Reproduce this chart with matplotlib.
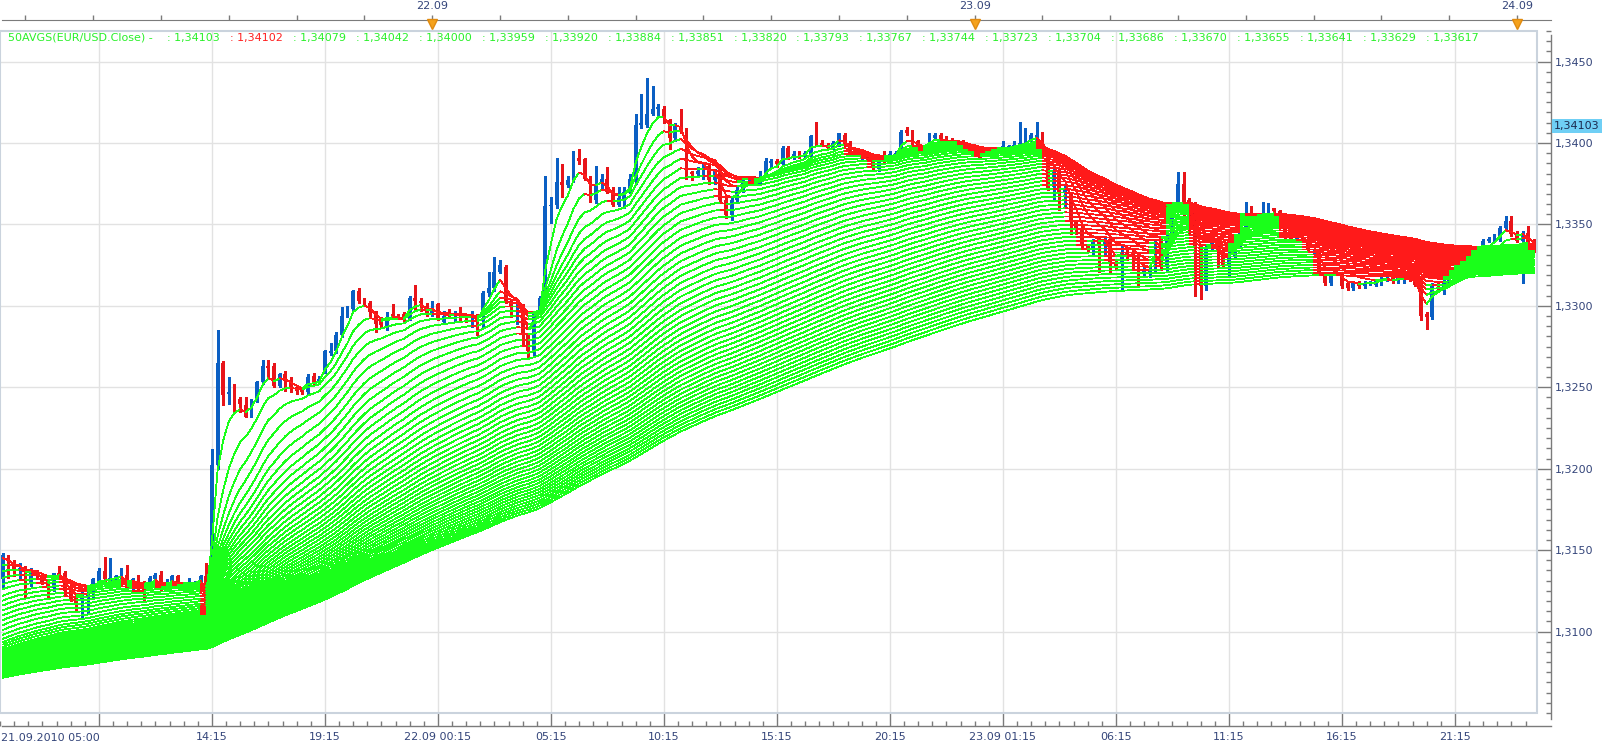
import numpy as np
import matplotlib
matplotlib.use("Agg")
import matplotlib.pyplot as plt
import matplotlib.transforms as mtransforms
from matplotlib.collections import LineCollection
from matplotlib.patches import Rectangle

# EUR/USD, 15-minute bars from 21.09.2010 05:00, values in pips above 1.3000
opens = [132, 147, 142, 137, 139, 129, 137, 134, 131, 127, 136, 136, 128, 121, 120, 121, 127, 131, 137, 132,
         133, 133, 135, 127, 132, 130, 130, 132, 135, 127, 130, 134, 128, 129, 128, 130, 134, 110, 202, 265,
         246, 247, 243, 239, 233, 242, 253, 263, 263, 251, 258, 254, 250, 249, 247, 257, 253, 260, 271, 272,
         282, 294, 298, 309, 304, 302, 296, 291, 287, 295, 294, 295, 292, 305, 303, 300, 295, 301, 290, 296,
         294, 295, 295, 293, 294, 296, 308, 311, 321, 324, 303, 299, 300, 282, 272, 297, 304, 361, 362, 376,
         374, 377, 391, 390, 379, 365, 375, 378, 371, 362, 365, 370, 377, 411, 411, 418, 421, 421, 414, 403,
         410, 407, 382, 381, 383, 386, 377, 383, 365, 356, 365, 371, 378, 379, 375, 381, 388, 389, 387, 397,
         391, 393, 392, 393, 404, 400, 399, 397, 399, 405, 400, 396, 392, 392, 390, 384, 392, 392, 393, 393,
         408, 407, 401, 398, 399, 403, 405, 402, 402, 400, 401, 398, 396, 395, 393, 394, 395, 395, 396, 398,
         398, 399, 401, 403, 405, 395, 373, 383, 370, 368, 352, 348, 337, 335, 340, 338, 341, 327, 326, 333,
         331, 328, 321, 321, 322, 340, 324, 343, 363, 375, 365, 362, 337, 312, 336, 339, 334, 325, 330, 338,
         345, 357, 355, 355, 356, 360, 358, 355, 342, 341, 341, 340, 333, 333, 320, 314, 320, 320, 314, 311,
         314, 312, 314, 313, 314, 316, 318, 315, 317, 317, 317, 316, 295, 293, 313, 310, 314, 318, 322, 325,
         327, 330, 337, 340, 341, 341, 348, 352, 344, 340, 345, 340]
highs = [148, 147, 144, 142, 140, 139, 138, 136, 132, 136, 140, 137, 131, 122, 126, 126, 133, 139, 146, 145,
         135, 139, 141, 133, 135, 131, 134, 136, 137, 132, 135, 135, 130, 133, 131, 135, 142, 212, 285, 266,
         256, 252, 244, 244, 243, 254, 267, 267, 265, 259, 260, 256, 251, 250, 258, 259, 257, 273, 277, 284,
         299, 300, 310, 311, 305, 303, 297, 293, 296, 301, 295, 296, 306, 313, 305, 302, 303, 302, 297, 298,
         297, 299, 295, 297, 295, 309, 321, 330, 328, 325, 304, 301, 301, 283, 297, 306, 380, 367, 391, 387,
         380, 395, 396, 391, 380, 386, 381, 385, 373, 373, 373, 381, 418, 430, 440, 435, 424, 423, 415, 412,
         421, 409, 383, 385, 388, 388, 384, 384, 366, 366, 373, 379, 380, 380, 383, 391, 390, 390, 398, 398,
         395, 395, 395, 405, 413, 402, 400, 401, 406, 406, 401, 397, 394, 393, 391, 390, 395, 395, 395, 408,
         410, 408, 402, 399, 406, 406, 406, 404, 403, 402, 402, 399, 397, 396, 395, 396, 397, 401, 399, 401,
         413, 409, 406, 413, 407, 396, 386, 384, 375, 370, 353, 349, 338, 341, 342, 342, 342, 328, 337, 335,
         335, 330, 325, 325, 341, 342, 345, 363, 382, 382, 366, 364, 338, 338, 341, 340, 335, 333, 339, 346,
         364, 361, 357, 364, 363, 360, 359, 356, 343, 342, 342, 341, 334, 334, 321, 321, 320, 321, 315, 315,
         315, 315, 315, 316, 319, 318, 320, 318, 318, 317, 320, 317, 296, 314, 314, 317, 320, 323, 326, 328,
         331, 335, 341, 342, 344, 349, 355, 355, 346, 346, 349, 341]
lows = [127, 133, 134, 133, 121, 128, 133, 129, 120, 125, 132, 122, 119, 113, 108, 111, 121, 130, 131, 126,
        131, 130, 126, 125, 124, 119, 128, 131, 125, 126, 129, 127, 127, 124, 127, 129, 110, 108, 200, 239,
        240, 235, 235, 232, 232, 241, 252, 257, 250, 250, 248, 247, 246, 246, 246, 252, 252, 259, 270, 271,
        281, 293, 297, 302, 300, 294, 284, 287, 285, 292, 292, 290, 291, 298, 297, 294, 294, 291, 289, 293,
        290, 291, 290, 287, 282, 287, 306, 309, 320, 302, 293, 289, 276, 268, 270, 296, 302, 351, 360, 367,
        373, 376, 387, 377, 364, 363, 371, 369, 361, 361, 360, 369, 375, 409, 410, 417, 416, 412, 396, 401,
        406, 378, 377, 379, 378, 375, 375, 364, 354, 353, 364, 370, 376, 374, 374, 380, 385, 385, 386, 390,
        390, 391, 391, 392, 398, 398, 396, 396, 398, 398, 392, 392, 390, 389, 384, 383, 388, 390, 391, 392,
        405, 399, 397, 394, 398, 402, 401, 400, 399, 399, 398, 395, 394, 390, 392, 393, 394, 394, 395, 397,
        397, 398, 400, 402, 395, 371, 365, 359, 360, 344, 344, 336, 333, 332, 321, 331, 320, 322, 309, 328,
        323, 313, 318, 318, 321, 322, 322, 340, 358, 350, 345, 306, 304, 310, 335, 324, 324, 318, 329, 337,
        344, 354, 353, 354, 355, 354, 354, 341, 340, 339, 339, 333, 332, 319, 313, 313, 319, 311, 310, 310,
        311, 311, 313, 312, 313, 315, 314, 314, 314, 315, 312, 291, 286, 292, 309, 307, 313, 317, 321, 324,
        326, 329, 336, 339, 340, 340, 347, 343, 339, 314, 338, 333]
closes = [147, 142, 138, 139, 130, 137, 134, 130, 127, 136, 135, 125, 120, 117, 123, 123, 132, 137, 132, 133,
          134, 135, 127, 132, 125, 124, 133, 135, 126, 128, 134, 128, 129, 130, 130, 134, 110, 202, 265, 245,
          247, 242, 240, 232, 242, 253, 263, 262, 251, 258, 254, 250, 248, 247, 256, 253, 255, 272, 272, 282,
          294, 298, 309, 303, 302, 296, 289, 288, 293, 294, 293, 291, 305, 303, 302, 295, 298, 292, 294, 294,
          295, 294, 294, 294, 287, 308, 311, 321, 325, 303, 299, 300, 282, 272, 296, 305, 361, 362, 376, 374,
          377, 391, 389, 378, 365, 374, 378, 370, 362, 366, 370, 378, 411, 412, 418, 421, 422, 416, 403, 411,
          408, 382, 381, 383, 386, 377, 383, 365, 356, 365, 371, 378, 379, 375, 378, 389, 389, 387, 397, 391,
          393, 392, 394, 404, 399, 399, 397, 400, 406, 399, 393, 393, 393, 390, 385, 389, 390, 393, 394, 407,
          406, 400, 398, 395, 403, 405, 402, 401, 401, 401, 399, 396, 395, 391, 394, 395, 396, 398, 398, 399,
          400, 401, 405, 405, 396, 372, 383, 370, 372, 352, 348, 337, 335, 340, 338, 340, 327, 324, 333, 331,
          330, 321, 322, 322, 340, 324, 343, 362, 375, 364, 362, 336, 312, 336, 339, 334, 325, 330, 338, 345,
          357, 355, 355, 356, 360, 358, 355, 342, 341, 341, 340, 334, 333, 320, 314, 320, 320, 312, 311, 314,
          312, 314, 314, 315, 317, 317, 315, 317, 317, 316, 313, 294, 293, 313, 312, 314, 318, 322, 325, 327,
          330, 334, 340, 341, 343, 348, 352, 344, 340, 345, 339, 334]

# 50 moving averages of the close; value of each at the first bar (pips above 1.3000)
ma_periods = np.arange(1, 51) * 4
ma_start = [145, 141, 137, 133, 129, 126, 122, 119, 116, 113, 110, 107, 104, 101, 98, 95.5, 93.5, 92, 90.5, 89,
            88, 87, 86, 85, 84, 83, 82.3, 81.6, 80.9, 80.2, 79.5, 78.9, 78.3, 77.7, 77.1, 76.5, 76, 75.5, 75, 74.6,
            74.2, 73.8, 73.4, 73.1, 72.8, 72.5, 72.3, 72.1, 71.9, 71.7]

# legend values shown in the header line
legend_vals = ["1,34103", "1,34102", "1,34079", "1,34042", "1,34000", "1,33959", "1,33920", "1,33884",
               "1,33851", "1,33820", "1,33793", "1,33767", "1,33744", "1,33723", "1,33704", "1,33686",
               "1,33670", "1,33655", "1,33641", "1,33629", "1,33617"]

# time axis labels (bar index -> text)
bottom_pos = [17, 37, 57, 77, 97, 117, 137, 157, 177, 197, 217, 237, 257]
bottom_lbl = ["", "14:15", "19:15", "22.09 00:15", "05:15", "10:15", "15:15", "20:15", "23.09 01:15",
              "06:15", "11:15", "16:15", "21:15"]
day_pos = [76, 172, 268]
day_lbl = ["22.09", "23.09", "24.09"]

GREEN = "#1aff1a"
RED = "#ff1a1a"
UPC = "#0b5fc3"
DNC = "#e8141a"
TXT = "#34457a"
AXC = "#7b7b7b"
LEG = "#2af02a"

W, H = 1608, 751
fig = plt.figure(figsize=(W / 100, H / 100), dpi=100)
ax = fig.add_axes([0, (H - 713) / H, 1537 / W, (713 - 31) / H])

o = 1.3 + np.array(opens) / 1e4
hi = 1.3 + np.array(highs) / 1e4
lo = 1.3 + np.array(lows) / 1e4
c = 1.3 + np.array(closes) / 1e4
n = len(c)
x = np.arange(n)

# candles
up = c >= o
col = np.where(up, UPC, DNC)
ax.vlines(x, lo, hi, colors=col, lw=1, antialiased=False, zorder=2)
body = np.where(np.abs(c - o) < 0.00006, 0.00006, c - o)
ax.bar(x, body, bottom=o, width=0.68, color=col, linewidth=0, antialiased=False, zorder=2)

# moving averages (exponential), each segment coloured by direction
alpha = 2.0 / (ma_periods + 1.0)
ma = np.empty((len(ma_periods), n))
ma[:, 0] = 1.3 + np.array(ma_start) / 1e4
for t in range(1, n):
    ma[:, t] = ma[:, t - 1] + alpha * (c[t] - ma[:, t - 1])

segs, cols = [], []
for k in range(len(ma_periods)):
    v = ma[k]
    for t in range(1, n):
        segs.append([(t - 1, v[t - 1]), (t, v[t])])
        cols.append(GREEN if v[t] >= v[t - 1] else RED)
lc = LineCollection(segs, colors=cols, linewidths=0.6, antialiased=False, zorder=3)
ax.add_collection(lc)

xmin, xmax = -0.177, 271.53
ymin, ymax = 1.30542, 1.34596
ax.set_xlim(xmin, xmax)
ax.set_ylim(ymin, ymax)

# grid
ax.set_axisbelow(True)
ax.grid(True, which="major", color="#e2e2e2", lw=1)

# frame of the plot area
ax.add_patch(Rectangle((0, 0), 1, 1, transform=ax.transAxes, fill=False, ec="#cad3dd",
                       lw=1.5, clip_on=False, zorder=5))

# axes lines
px = 0.72
ax.spines["left"].set_visible(False)
ax.spines["top"].set_visible(False)
ax.spines["bottom"].set_position(("outward", 13 * px))
ax.spines["right"].set_position(("outward", 14 * px))
for s in ["bottom", "right"]:
    ax.spines[s].set_color(AXC)
    ax.spines[s].set_linewidth(1)
x_right = (1551 - 1) / 5.657
ax.spines["bottom"].set_bounds(xmin, x_right)
ax.spines["right"].set_bounds(1.3450 - (726 - 47.2) / 16820, 1.3450 - (20 - 47.2) / 16820)

# bottom ticks
ax.set_xticks(bottom_pos)
ax.set_xticklabels(bottom_lbl)
ax.set_xticks(np.arange(-0.5, 272, 2.5), minor=True)
ax.tick_params(axis="x", which="major", direction="in", length=13 * px, width=1, color=AXC,
               pad=4, labelsize=8, labelcolor=TXT)
ax.tick_params(axis="x", which="minor", direction="in", length=5 * px, width=1, color=AXC)
fig.text(1 / W, 1 - 738 / H, "21.09.2010 05:00", ha="left", va="center", fontsize=8, color=TXT)

# right price axis
ax.yaxis.tick_right()
yt = np.arange(1.3100, 1.34501, 0.005)
ax.set_yticks(yt)
ax.set_yticklabels([f"{v:.4f}".replace(".", ",") for v in yt])
ax.set_yticks(np.arange(1.3050, 1.3470, 0.000625), minor=True)
ax.tick_params(axis="y", which="major", direction="in", length=14 * px, width=1, color=AXC,
               pad=3, labelsize=8, labelcolor=TXT)
ax.tick_params(axis="y", which="minor", direction="in", length=5 * px, width=1, color=AXC)

# top date axis
top = ax.secondary_xaxis(1 + 11 / 682)
top.set_xticks(np.arange(4, 272, 12))
top.tick_params(direction="out", length=5 * px, width=1, color=AXC, labeltop=False)
top.spines["top"].set_color(AXC)
top.spines["top"].set_bounds(xmin, x_right)
btr = mtransforms.blended_transform_factory(ax.transData, ax.transAxes)
ax.plot(day_pos, [1 + 7 / 682] * len(day_pos), "v", ms=7, color="#f5a21c", mec="#e08a10",
        transform=btr, clip_on=False, zorder=6)
for p, s in zip(day_pos, day_lbl):
    ax.text(p, 1 + 25 / 682, s, transform=btr, ha="center", va="center", fontsize=8, color=TXT)

# current value marker on the price axis
rtr = mtransforms.blended_transform_factory(ax.transAxes, ax.transData)
ax.text(1 + 17 / 1537, 1.34103, "1,34103", transform=rtr, ha="left", va="center", fontsize=8,
        color="#1c2b4f", bbox=dict(boxstyle="square,pad=0.2", fc="#6fcff5", ec="none"), zorder=7)

# header legend
fig.text(8 / W, 1 - 38 / H, "50AVGS(EUR/USD.Close) -", ha="left", va="center", fontsize=8, color=LEG)
for k, s in enumerate(legend_vals):
    fig.text((167 + 62.95 * k) / W, 1 - 38 / H, ": " + s, ha="left", va="center", fontsize=8,
             color="#ff2020" if k == 1 else LEG)

fig.savefig("out.png", dpi=100)
